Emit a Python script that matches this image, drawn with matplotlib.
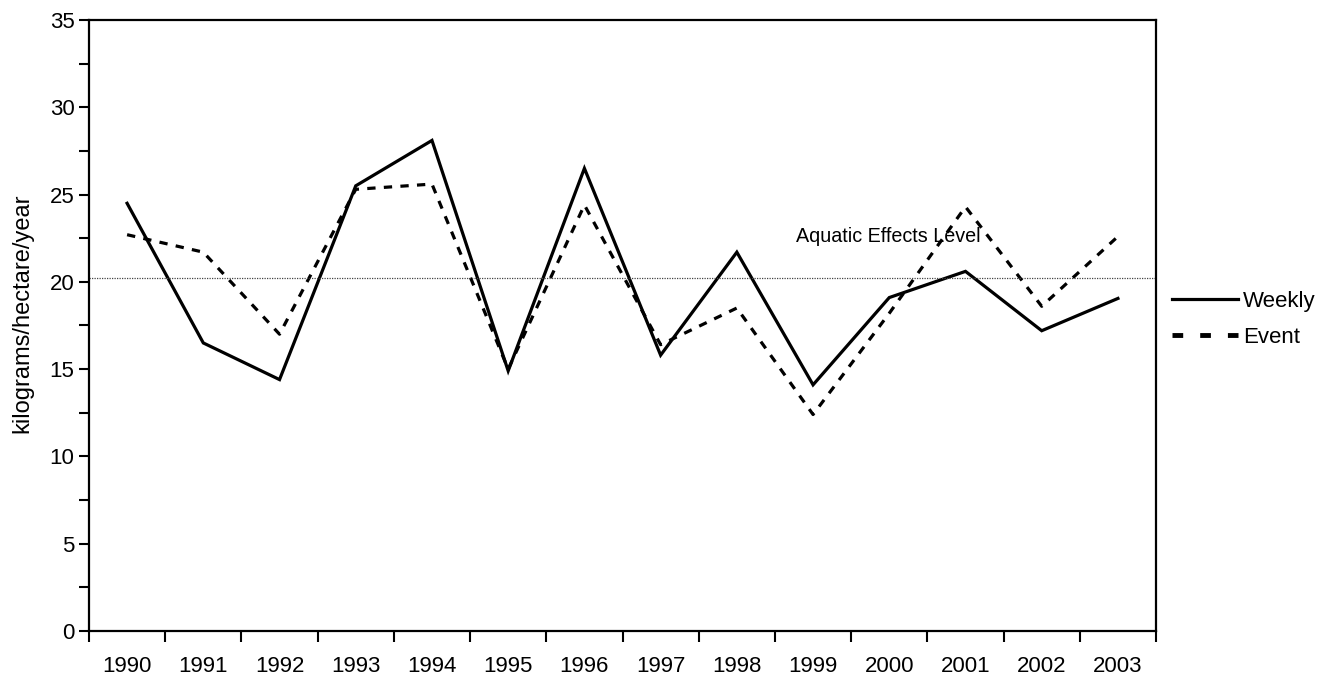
import numpy as np
import matplotlib.pyplot as plt
from matplotlib.lines import Line2D

years = ['1990', '1991', '1992', '1993', '1994', '1995', '1996',
         '1997', '1998', '1999', '2000', '2001', '2002', '2003']
weekly = [24.5, 16.5, 14.4, 25.5, 28.1, 14.9, 26.5, 15.8, 21.7, 14.1, 19.1, 20.6, 17.2, 19.05]
event = [22.7, 21.7, 17.0, 25.3, 25.6, 15.0, 24.4, 16.4, 18.5, 12.4, 18.2, 24.3, 18.6, 22.6]
aquatic_level = 20.2

plt.rcParams['font.family'] = ['Liberation Sans', 'DejaVu Sans']

fig = plt.figure(figsize=(13.32, 6.82), dpi=100)
ax = fig.add_axes([0.0668, 0.0748, 0.8011, 0.8959])

x = np.arange(len(years)) + 0.5
ax.plot(x, weekly, color='black', lw=2.3, solid_joinstyle='miter')
ax.plot(x, event, color='black', lw=2.3, dashes=(2.6, 2.6))
ax.axhline(aquatic_level, color='#444444', lw=0.9, ls=(0, (1, 1)))
ax.text(9.28, 22.6, 'Aquatic Effects Level', fontsize=14.2, va='center', ha='left')

ax.set_xlim(0, len(years))
ax.set_ylim(0, 35)
ax.set_xticks(np.arange(len(years) + 1))
ax.set_xticklabels([])
ax.set_xticks(x, minor=True)
ax.set_xticklabels(years, minor=True, fontsize=16)
ax.tick_params(axis='x', which='major', direction='out', length=8, width=1.5)
ax.tick_params(axis='x', which='minor', length=0, pad=18)

ax.set_yticks(np.arange(0, 36, 5))
ax.set_yticks(np.arange(0, 35, 2.5), minor=True)
ax.tick_params(axis='y', which='both', direction='out', length=7, width=1.5, labelsize=16)
ax.set_ylabel('kilograms/hectare/year', fontsize=17, labelpad=4)
ax.yaxis.set_label_coords(-0.052, 0.52)

for s in ax.spines.values():
    s.set_linewidth(1.6)
    s.set_color('black')

handles = [Line2D([], [], color='black', lw=2.3),
           Line2D([], [], color='black', lw=3.5, dashes=(2.2, 3.5))]
ax.legend(handles, ['Weekly', 'Event'], loc='center left', bbox_to_anchor=(1.0, 0.51),
          frameon=False, fontsize=16, handlelength=3.0, handletextpad=0.2,
          labelspacing=0.7, borderaxespad=0.3)

fig.savefig('out.png', dpi=100)
